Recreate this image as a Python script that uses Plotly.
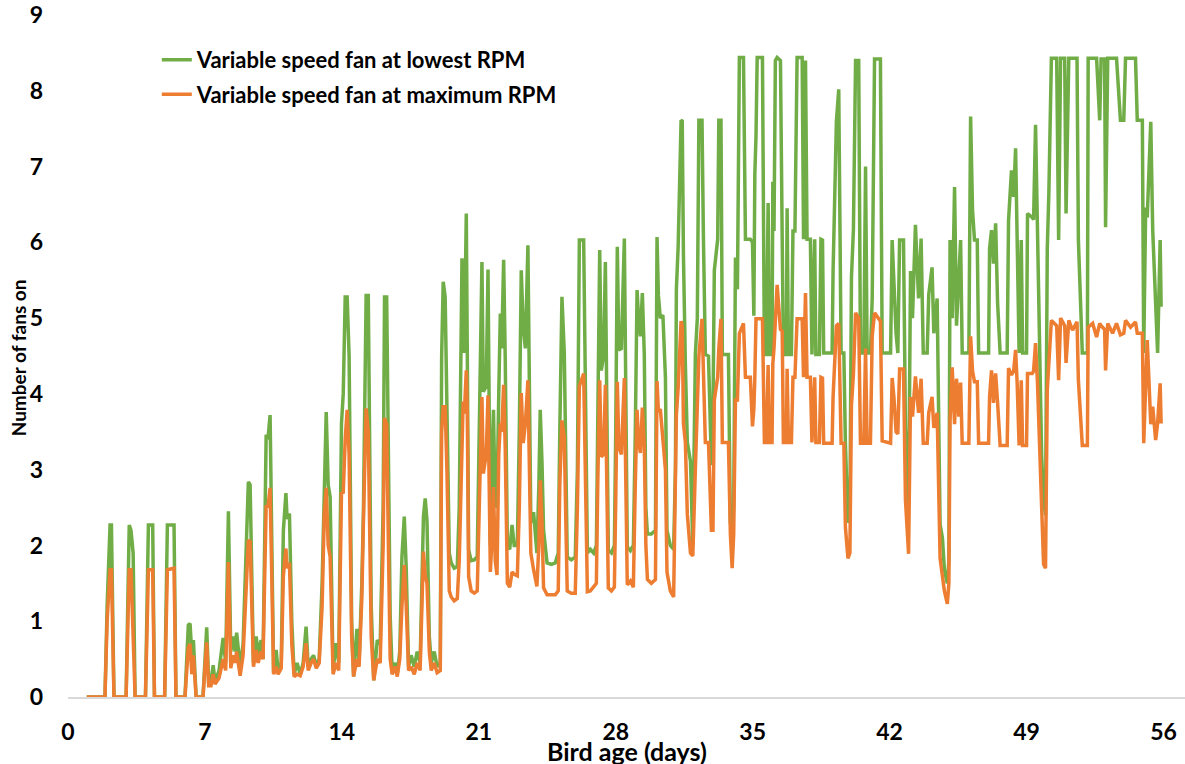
import plotly.graph_objects as go

# Bird age in days (x) and number of fans on (y) for the two fan settings
day = [
    0.96, 1.89, 2.00, 2.15, 2.22, 2.35, 2.97, 3.13, 3.22, 3.33, 3.43, 3.96, 4.11, 4.33, 4.42,
    4.94, 5.08, 5.42, 5.52, 5.98, 6.15, 6.24, 6.33, 6.41, 6.55, 6.90, 7.09, 7.19, 7.31, 7.42,
    7.52, 7.72, 7.93, 8.06, 8.20, 8.32, 8.44, 8.54, 8.62, 8.80, 8.95, 9.05, 9.22, 9.31, 9.48,
    9.62, 9.72, 9.87, 9.97,
    10.13, 10.22, 10.33, 10.43, 10.51, 10.64, 10.74, 10.90, 11.01, 11.14, 11.20, 11.32, 11.44,
    11.56, 11.71, 11.87, 12.02, 12.17, 12.28, 12.43, 12.55, 12.69, 12.84, 12.99, 13.10, 13.20,
    13.30, 13.40, 13.55, 13.71, 13.84, 13.98, 14.07, 14.17, 14.27, 14.37, 14.50, 14.60, 14.77,
    14.88, 15.02, 15.10, 15.24, 15.35, 15.50, 15.63, 15.81, 15.96, 16.11, 16.18, 16.29, 16.39,
    16.47, 16.57, 16.73, 16.83, 16.96, 17.07, 17.19, 17.29, 17.41, 17.54, 17.70, 17.85, 18.00,
    18.17, 18.26, 18.35, 18.47, 18.57, 18.72, 18.87, 19.03, 19.10, 19.18, 19.28, 19.37,
    19.49, 19.59, 19.74, 19.90, 20.00, 20.14, 20.20, 20.26, 20.36, 20.41, 20.48, 20.61, 20.77,
    20.92, 21.02, 21.16, 21.23, 21.38, 21.47, 21.53, 21.59, 21.66, 21.75, 21.84, 21.93, 22.02,
    22.10, 22.17, 22.27, 22.35, 22.46, 22.58, 22.70, 22.81, 22.97, 23.07, 23.17, 23.27, 23.38,
    23.51, 23.58, 23.66, 23.80, 23.97, 24.07, 24.14, 24.23, 24.31, 24.49, 24.71, 24.91, 25.06,
    25.14, 25.25, 25.37, 25.45, 25.52, 25.73, 25.93, 26.04, 26.14, 26.36, 26.45, 26.55, 26.70,
    26.87, 27.01, 27.08, 27.18, 27.26, 27.38, 27.47, 27.55, 27.62, 27.78, 27.93, 28.00, 28.08,
    28.16, 28.29, 28.44, 28.52, 28.59, 28.75, 28.90,
    29.00, 29.09, 29.16, 29.26, 29.36, 29.46, 29.54, 29.62, 29.82, 30.03, 30.11, 30.18, 30.28,
    30.41, 30.54, 30.62, 30.79, 30.96, 31.05, 31.10, 31.19, 31.34, 31.40, 31.46, 31.56, 31.66,
    31.82, 31.94, 32.07, 32.17, 32.25, 32.41, 32.48, 32.58, 32.74, 32.89, 32.97, 33.04, 33.21,
    33.27, 33.38, 33.45, 33.76, 33.86, 33.95, 34.03, 34.12, 34.22, 34.32, 34.53, 34.63, 34.88,
    34.99, 35.06, 35.11, 35.17, 35.23,
    35.50, 35.60, 35.70, 35.79, 35.86, 35.99, 36.03, 36.09, 36.16, 36.25, 36.42, 36.51, 36.57,
    36.72, 36.76, 36.83, 36.98, 37.06, 37.16, 37.27, 37.53, 37.60, 37.70, 37.78, 37.95, 38.03,
    38.17, 38.23, 38.41, 38.49, 38.57, 38.63, 39.06, 39.11, 39.28, 39.40, 39.52, 39.66, 39.74,
    39.87, 39.97, 40.05, 40.15, 40.26, 40.42, 40.51, 40.68, 40.77, 40.85, 41.02, 41.11, 41.23,
    41.53, 41.62, 42.05, 42.13, 42.22, 42.33, 42.42, 42.51, 42.71, 42.81, 42.97, 43.07, 43.17,
    43.32, 43.48, 43.61, 43.72, 43.92, 44.00, 44.17, 44.26, 44.43, 44.58, 44.70, 44.80, 44.95,
    45.03, 45.09, 45.20, 45.32, 45.42, 45.54, 45.63, 45.71, 46.05, 46.14, 46.24, 46.34, 46.48,
    46.55, 47.06,
    47.11, 47.21, 47.31, 47.42, 47.52, 47.65, 48.01, 48.08, 48.23, 48.34, 48.44, 48.52, 48.62,
    48.73, 48.80, 49.00, 49.05, 49.29, 49.36, 49.46, 49.56, 49.67, 49.77, 49.87, 49.97, 50.06,
    50.14, 50.27, 50.54, 50.64, 50.74, 50.95, 51.02, 51.16, 51.35, 51.58, 51.65, 51.85, 52.11,
    52.15, 52.38, 52.58, 52.74, 52.81, 52.99, 53.04, 53.15, 53.40, 53.60, 53.80, 53.97, 54.06,
    54.32, 54.57, 54.66, 54.92, 54.99, 55.09, 55.17, 55.35, 55.45, 55.60, 55.70, 55.83, 55.88,
]

fans_lowest_rpm = [
    0, 0, 1.2, 2.27, 2.27, 0, 0, 2.27, 2.2, 1.9, 0, 0, 2.27, 2.27, 0,
    0, 2.27, 2.27, 0, 0, 0.95, 0.97, 0.55, 0.75, 0, 0, 0.92, 0.2, 0.2, 0.42,
    0.2, 0.35, 0.78, 0.45, 2.45, 0.6, 0.8, 0.6, 0.85, 0.4, 0.7, 1.65, 2.84, 2.8, 0.45,
    0.8, 0.55, 0.75, 0.5,
    3.46, 3.4, 3.72, 1.8, 0.32, 0.62, 0.35, 0.45, 2.2, 2.69, 2.35, 2.42, 1.0,
    0.3, 0.45, 0.3, 0.45, 0.93, 0.4, 0.5, 0.55, 0.42, 0.5, 1.5, 3.0, 3.76,
    2.8, 2.64, 0.36, 0.71, 0.45, 3.61, 4.0, 5.28, 5.28, 4.5, 1.0, 0.27, 0.9,
    0.45, 1.5, 2.42, 5.3, 5.3, 1.2, 0.22, 0.75, 0.7, 2.5, 5.28, 5.28, 2.5,
    1.06, 0.35, 0.45, 0.3, 0.6, 1.85, 2.38, 1.7, 0.4, 0.55, 0.4, 0.6, 0.45,
    2.38, 2.62, 2.33, 0.8, 0.45, 0.6, 0.4, 0.45, 4.5, 5.48, 5.28, 4.0,
    1.9, 1.77, 1.7, 1.72, 2.5, 5.79, 5.5, 4.54, 6.38, 4.6, 1.94, 1.8, 1.81,
    1.85, 3.5, 5.74, 4.03, 4.1, 5.64, 3.5, 2.0, 3.0, 3.79, 2.5, 2.6, 4.0,
    5.06, 4.6, 5.77, 4.5, 2.0, 1.95, 2.27, 2.0, 2.0, 3.5, 5.63, 4.88, 4.6,
    5.96, 4.0, 2.3, 2.44, 1.9, 2.8, 3.79, 3.1, 2.2, 1.77, 1.75, 1.77, 1.9,
    3.5, 5.28, 4.54, 3.0, 1.85, 1.81, 1.85, 3.0, 6.03, 6.03, 3.5, 1.9, 1.95,
    1.9, 2.0, 3.8, 5.9, 4.31, 4.5, 5.74, 3.0, 1.94, 1.9, 2.0, 3.5, 5.94,
    4.58, 4.6, 6.05, 4.0, 1.98, 1.93, 2.0,
    3.5, 5.37, 5.03, 4.76, 5.33, 4.52, 2.5, 2.15, 2.15, 2.2, 6.07, 5.3, 5.0,
    5.04, 4.22, 2.2, 2.0, 1.95, 3.0, 5.38, 5.94, 7.61, 7.6, 5.84, 4.38, 3.36,
    3.11, 2.0, 4.52, 5.0, 7.61, 7.61, 6.1, 4.52, 4.5, 3.06, 3.77, 5.63, 6.04,
    7.61, 7.61, 4.52, 4.52, 2.3, 2.2, 2.5, 5.8, 5.38, 8.44, 8.44, 6.04, 6.04,
    6.0, 5.03, 6.9, 7.4, 8.44,
    8.44, 4.52, 4.52, 6.52, 4.52, 4.52, 6.8, 6.15, 8.4, 8.44, 8.4, 6.04, 4.52,
    4.52, 6.45, 4.52, 4.52, 6.15, 6.15, 8.44, 8.44, 6.04, 8.4, 6.04, 6.04, 4.52,
    6.04, 4.52, 4.52, 6.04, 6.03, 4.54, 4.54, 5.62, 7.6, 8.02, 4.54, 4.54, 3.35,
    2.3, 2.4, 5.54, 6.17, 8.4, 8.4, 4.54, 4.54, 7.0, 4.54, 4.54, 5.26, 8.42,
    8.42, 4.54, 4.54, 6.03, 5.5, 4.8, 4.54, 6.03, 6.03, 3.55, 2.54, 5.62, 5.0,
    6.23, 5.26, 6.05, 4.54, 4.54, 5.31, 5.67, 4.8, 5.26, 2.28, 2.1, 1.68, 1.5,
    1.8, 6.03, 5.0, 6.73, 4.9, 5.5, 6.03, 4.54, 4.54, 7.66, 6.42, 6.03, 6.03,
    4.54, 4.54,
    5.92, 6.16, 5.72, 6.25, 5.2, 4.54, 4.54, 6.29, 6.95, 6.6, 7.24, 6.03, 4.54,
    6.03, 4.54, 4.54, 6.38, 6.33, 6.3, 7.55, 6.03, 4.54, 3.2, 2.6, 2.4, 5.92,
    6.65, 8.43, 8.43, 6.03, 8.43, 8.43, 6.38, 8.43, 8.43, 8.43, 6.03, 4.54, 4.54,
    8.43, 8.43, 8.43, 7.61, 8.42, 8.42, 6.2, 8.43, 8.43, 8.43, 7.61, 7.61, 8.43,
    8.43, 8.43, 7.61, 7.61, 4.54, 6.46, 6.33, 7.59, 6.16, 5.15, 4.54, 6.03, 5.15,
]

fans_max_rpm = [
    0, 0, 1.0, 1.68, 1.68, 0, 0, 1.68, 1.68, 0.9, 0, 0, 1.68, 1.68, 0,
    0, 1.68, 1.70, 0, 0, 0.65, 0.7, 0.3, 0.55, 0, 0, 0.72, 0.15, 0.15, 0.3,
    0.17, 0.25, 0.5, 0.35, 1.78, 0.38, 0.55, 0.45, 0.6, 0.28, 0.55, 1.1, 2.07, 2.05, 0.4,
    0.62, 0.45, 0.6, 0.5,
    2.53, 2.5, 2.76, 1.4, 0.3, 0.4, 0.3, 0.38, 1.6, 1.96, 1.7, 1.77, 0.7,
    0.27, 0.3, 0.28, 0.4, 0.71, 0.35, 0.45, 0.5, 0.38, 0.45, 1.2, 2.4, 2.76,
    2.0, 1.85, 0.3, 0.45, 0.35, 2.69, 2.7, 3.4, 3.79, 3.2, 0.8, 0.27, 0.5,
    0.4, 1.3, 2.3, 3.81, 3.5, 0.8, 0.22, 0.5, 0.45, 2.0, 3.68, 3.6, 1.8,
    0.5, 0.3, 0.4, 0.27, 0.5, 1.2, 1.74, 1.2, 0.35, 0.4, 0.3, 0.45, 0.35,
    1.92, 1.6, 1.5, 0.6, 0.35, 0.45, 0.32, 0.35, 3.5, 3.83, 3.83, 3.0,
    1.4, 1.32, 1.27, 1.3, 1.8, 3.5, 3.9, 3.74, 4.31, 3.8, 1.59, 1.4, 1.37,
    1.4, 2.5, 3.96, 2.95, 3.2, 3.98, 2.5, 1.65, 2.0, 2.77, 1.8, 1.61, 3.2,
    3.61, 3.5, 4.12, 3.3, 1.5, 1.45, 1.65, 1.62, 1.6, 2.5, 4.01, 3.35, 3.6,
    4.18, 3.0, 1.9, 1.68, 1.46, 2.0, 2.86, 2.3, 1.44, 1.35, 1.35, 1.35, 1.4,
    2.8, 3.65, 3.43, 2.3, 1.4, 1.37, 1.37, 2.5, 4.1, 4.27, 2.7, 1.39, 1.4,
    1.45, 1.5, 2.8, 4.18, 3.17, 3.2, 4.12, 2.2, 1.44, 1.4, 1.45, 2.6, 4.16,
    3.3, 3.2, 4.21, 3.0, 1.48, 1.53, 1.45,
    2.8, 3.79, 3.4, 3.22, 3.82, 3.3, 2.0, 1.55, 1.5, 1.55, 4.17, 3.77, 3.8,
    3.36, 3.0, 1.65, 1.4, 1.32, 2.5, 3.72, 4.08, 4.96, 4.9, 3.61, 3.36, 2.41,
    1.9, 1.86, 3.0, 3.92, 4.5, 4.99, 4.22, 3.36, 3.36, 2.2, 2.2, 3.92, 4.22,
    4.6, 4.99, 3.36, 3.36, 2.15, 1.7, 2.15, 3.92, 3.92, 4.8, 4.93, 4.22, 4.22,
    3.57, 3.8, 4.22, 4.99, 4.99,
    4.99, 3.36, 3.36, 4.38, 3.36, 3.36, 4.4, 4.6, 5.1, 5.44, 4.85, 4.83, 3.36,
    3.36, 4.33, 3.36, 3.36, 4.22, 4.22, 4.99, 4.99, 4.22, 5.33, 4.22, 4.22, 3.36,
    4.22, 3.36, 3.36, 4.22, 4.21, 3.35, 3.35, 3.96, 4.9, 4.93, 3.35, 3.35, 2.24,
    1.83, 1.9, 3.85, 4.26, 5.07, 5.0, 3.35, 3.35, 4.6, 3.35, 3.35, 4.76, 5.07,
    4.96, 3.38, 3.35, 4.21, 3.96, 3.5, 3.47, 4.33, 4.33, 2.6, 1.89, 3.96, 3.7,
    4.23, 3.75, 4.2, 3.35, 3.35, 3.75, 3.96, 3.55, 3.75, 1.83, 1.6, 1.4, 1.23,
    1.5, 3.65, 4.35, 3.6, 4.2, 3.7, 4.15, 3.35, 3.35, 4.76, 4.3, 4.16, 4.16,
    3.35, 3.35,
    3.96, 4.31, 3.88, 4.27, 3.88, 3.32, 3.32, 4.34, 4.25, 4.3, 4.58, 4.14, 3.32,
    4.18, 3.32, 3.32, 4.27, 4.27, 4.3, 4.67, 4.14, 3.32, 2.5, 1.75, 1.7, 4.05,
    4.41, 4.97, 4.9, 4.18, 5.0, 4.9, 4.41, 4.97, 4.84, 4.95, 4.18, 3.32, 3.32,
    4.88, 4.93, 4.75, 4.93, 4.9, 4.85, 4.31, 4.93, 4.8, 4.93, 4.78, 4.8, 4.97,
    4.88, 4.95, 4.8, 4.8, 3.35, 4.34, 4.71, 3.6, 3.83, 3.39, 3.61, 4.14, 3.61,
]

x_tick_values = [0, 7, 14, 21, 28, 35, 42, 49, 56]
y_tick_values = [0, 1, 2, 3, 4, 5, 6, 7, 8, 9]

GREEN = "#70AD47"
ORANGE = "#ED7D31"
FONT = "Lato"

fig = go.Figure()
fig.add_trace(go.Scatter(
    x=day, y=fans_lowest_rpm, mode="lines",
    name="Variable speed fan at lowest RPM",
    line=dict(color=GREEN, width=3.5),
    legendgroup="a",
))
fig.add_trace(go.Scatter(
    x=day, y=fans_max_rpm, mode="lines",
    name="Variable speed fan at maximum RPM",
    line=dict(color=ORANGE, width=3.5),
    legendgroup="b",
))

fig.update_layout(
    width=1185, height=764,
    margin=dict(l=68, r=0, t=15, b=67, autoexpand=False),
    paper_bgcolor="white", plot_bgcolor="white",
    font=dict(family=FONT, color="black"),
    showlegend=True,
    legend=dict(
        x=0.0795, y=0.965, xanchor="left", yanchor="top",
        bgcolor="rgba(0,0,0,0)", borderwidth=0,
        font=dict(family=FONT, size=22, color="black", weight="bold"),
        traceorder="grouped", tracegroupgap=3, itemwidth=30,
    ),
    xaxis=dict(
        range=[0, 57.1], tickvals=x_tick_values,
        ticktext=[str(v) for v in x_tick_values],
        showgrid=False, zeroline=False,
        showline=True, linecolor="#D9D9D9", linewidth=1.5,
        ticks="", ticklabelstandoff=14, ticklabeloverflow="allow",
        tickfont=dict(family=FONT, size=23, color="black", weight="bold"),
        automargin=False,
    ),
    yaxis=dict(
        range=[0, 9], tickvals=y_tick_values,
        showgrid=False, zeroline=False, showline=False,
        ticks="", ticklabelstandoff=24, ticklabeloverflow="allow",
        tickfont=dict(family=FONT, size=23, color="black", weight="bold"),
        automargin=False,
    ),
    annotations=[
        dict(
            text="Number of fans on", textangle=-90,
            xref="paper", yref="paper", x=-0.0448, y=0.498,
            xanchor="center", yanchor="middle", showarrow=False,
            font=dict(family=FONT, size=19, color="black", weight="bold"),
        ),
        dict(
            text="Bird age (days)",
            xref="paper", yref="paper", x=0.5003, y=-0.079,
            xanchor="center", yanchor="middle", showarrow=False,
            font=dict(family=FONT, size=25, color="black", weight="bold"),
        ),
    ],
)

fig.write_html(
    "out.html",
    config={"displayModeBar": False},
    post_script="document.body.style.margin='0';",
)
